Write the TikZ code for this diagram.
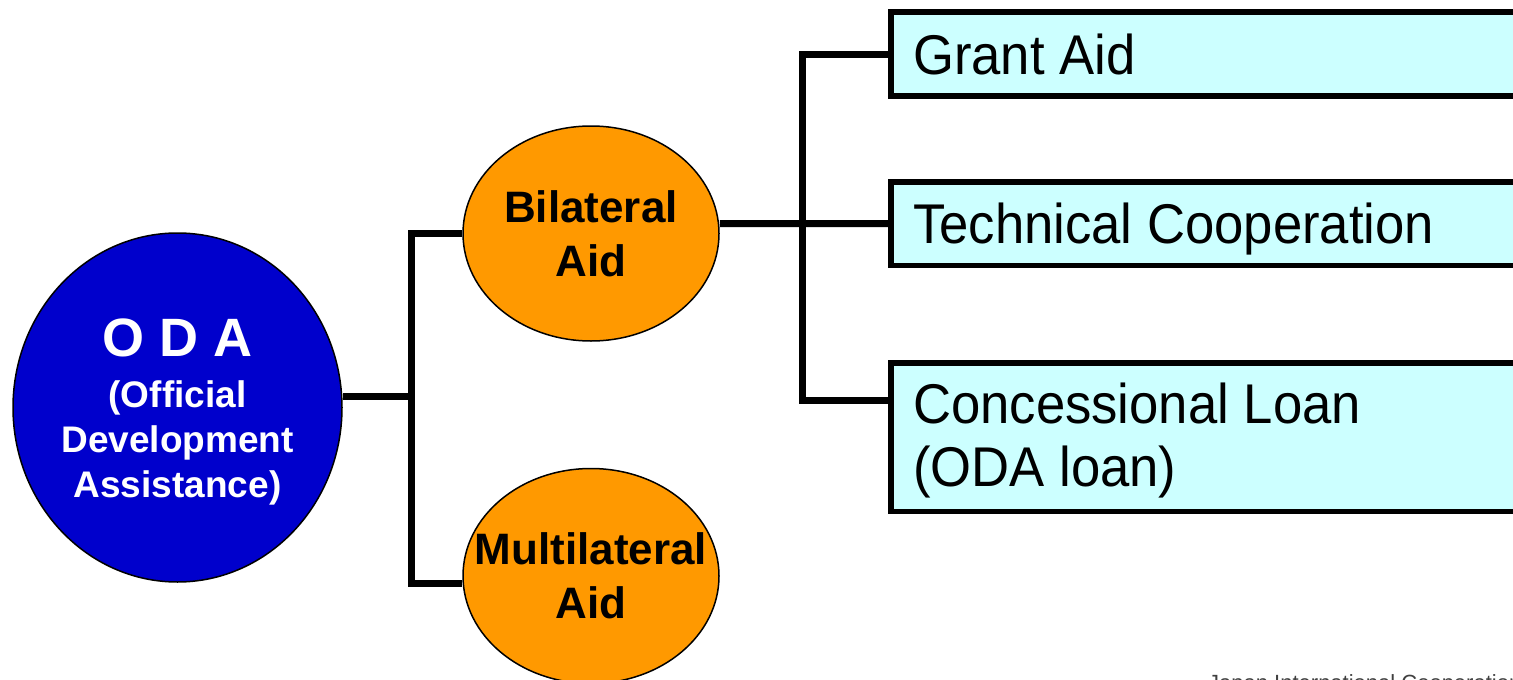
\documentclass[tikz,border=0pt]{standalone}
\usepackage{fontspec}
\setmainfont{Liberation Sans}
\newfontfamily\boxfont[FakeStretch=0.94]{Liberation Sans}
\usetikzlibrary{shapes.geometric}
\pgfdeclarelayer{bg}
\pgfdeclarelayer{lines}
\pgfsetlayers{bg,lines,main}
\definecolor{odablue}{HTML}{0000CC}
\definecolor{aidorange}{HTML}{FF9900}
\definecolor{boxcyan}{HTML}{CCFFFF}
\definecolor{footgray}{HTML}{404040}
\tikzset{
  conn/.style={line width=7pt, line join=miter},
  bigell/.style={ellipse, draw=black, line width=1.5pt, fill=odablue, inner sep=0pt, minimum width=329pt, minimum height=349pt},
  aidell/.style={ellipse, draw=black, line width=1.5pt, fill=aidorange, inner sep=0pt, minimum width=256pt, minimum height=215pt},
  kindbox/.style={rectangle, draw=black, line width=5.5pt, fill=boxcyan, inner sep=0pt, outer sep=0pt, minimum width=639pt, anchor=north west},
  boxtext/.style={inner sep=0pt, anchor=base west, align=left, font=\boxfont\fontsize{56}{63}\selectfont},
  aidtext/.style={inner sep=0pt, align=center, font=\bfseries\fontsize{44}{54}\selectfont},
  odatext/.style={inner sep=0pt, align=center, text=white, font=\bfseries\fontsize{37}{45}\selectfont}
}
\begin{document}
\begin{tikzpicture}[x=1pt, y=-1pt]
\begin{pgfonlayer}{bg}
  \fill[white] (0,0) rectangle (1513,680);
\end{pgfonlayer}
\useasboundingbox (0,0) rectangle (1513,680);

% nodes
\node[bigell] (oda) at (177.5,407.5) {};
\node[odatext] (odalabel) at (177.5,411.5) {{\fontsize{54}{54}\selectfont O D A}\\[6pt](Official\\Development\\Assistance)};
\node[aidell] (bil) at (591,233.5) {};
\node[aidtext] (billabel) at (bil.center) {Bilateral\\Aid};
\node[aidell] (mul) at (591,576) {};
\node[aidtext] (mullabel) at (591,575.5) {Multilateral\\Aid};

\node[kindbox, minimum height=84pt] (grant) at (891,12) {};
\node[kindbox, minimum height=83.5pt] (tech) at (891,182) {};
\node[kindbox, minimum height=148.5pt] (loan) at (891,363) {};
\node[boxtext] (grantlabel) at (913,74) {Grant Aid};
\node[boxtext] (techlabel) at (913,243) {Technical Cooperation};
\node[boxtext] (loanlabel) at (913,486) {Concessional Loan\\(ODA loan)};

\node[inner sep=0pt, anchor=base west, text=footgray, font=\fontsize{22}{26}\selectfont] (footer) at (1208,690) {Japan International Cooperation Agency};

% connectors
\coordinate (ja) at (411,396);
\coordinate (jb) at (802,224);
\begin{pgfonlayer}{lines}
  \draw[conn] ([yshift=11.5pt]oda.east) -- (ja);
  \draw[conn] (bil.west) -| (ja) |- ([yshift=-7pt]mul.west);
  \draw[conn] ([yshift=10pt]bil.east) -- (tech.west);
  \draw[conn] (grant.west) -| (jb) |- ([yshift=37pt]loan.west);
\end{pgfonlayer}
\end{tikzpicture}
\end{document}
